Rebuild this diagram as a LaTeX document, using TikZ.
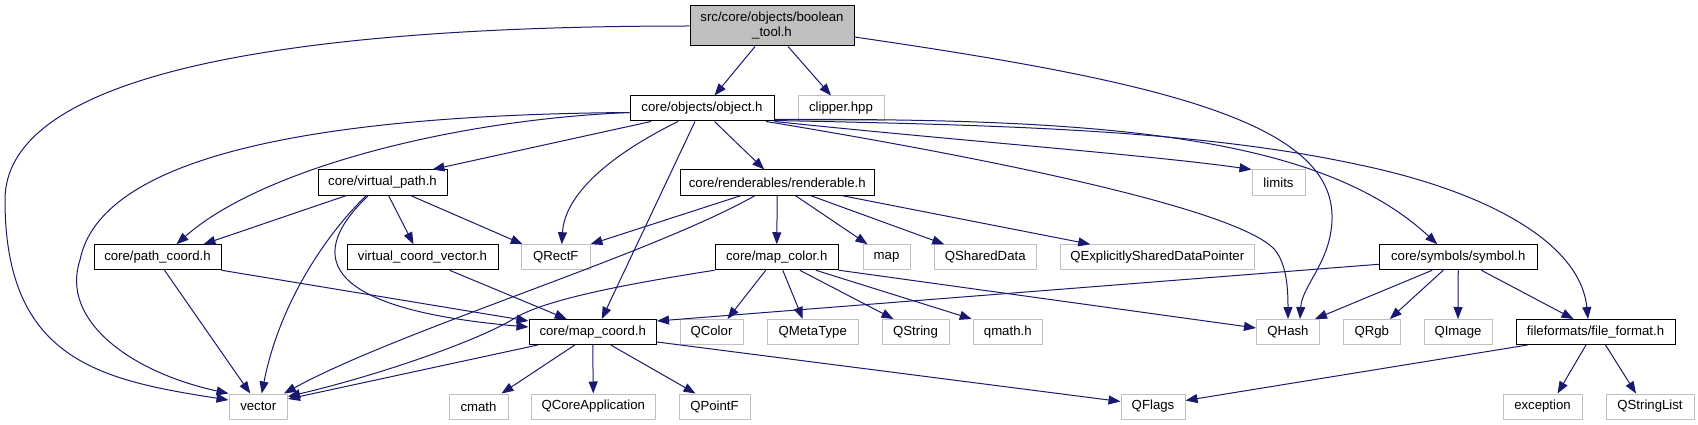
\documentclass[tikz,border=0pt]{standalone}
\usepackage{fontspec}
\setmainfont{Liberation Sans}
\usetikzlibrary{arrows.meta}
\definecolor{edgecol}{HTML}{191970}
\definecolor{greyb}{HTML}{BFBFBF}
\begin{document}
\begin{tikzpicture}[x=1pt,y=-1pt,
  every node/.style={font=\fontsize{13.2}{15}\selectfont, inner sep=0pt, anchor=center},
  doc/.style={draw=black, line width=1pt, fill=white, minimum height=25pt},
  ext/.style={draw=greyb, line width=1pt, fill=white, minimum height=25pt},
  rootnode/.style={draw=black, line width=1pt, fill=greyb, align=center, minimum height=40pt},
  link/.style={draw=edgecol, line width=1pt, -{Triangle[length=12pt,width=9pt]}}
]
\useasboundingbox[fill=white] (0,0) rectangle (1698,425);

% row 0
\node[rootnode, minimum width=164pt] (bool) at (772,26) {src/core/objects/boolean\\\_tool.h};
% row 1
\node[doc, minimum width=144pt] (object) at (702,108.5) {core/objects/object.h};
\node[ext, minimum width=86pt] (clipper) at (841,108.5) {clipper.hpp};
% row 2
\node[doc, minimum width=129pt] (vp) at (382.5,182.5) {core/virtual\_path.h};
\node[doc, minimum width=194.5pt] (rend) at (777.25,182.5) {core/renderables/renderable.h};
\node[ext, minimum width=53pt] (limits) at (1278.5,182.5) {limits};
% row 3
\node[doc, minimum width=127pt] (pathc) at (157.5,257.25) {core/path\_coord.h};
\node[doc, minimum width=151pt] (vcv) at (422.5,257.25) {virtual\_coord\_vector.h};
\node[ext, minimum width=68.5pt] (qrectf) at (555.75,257.25) {QRectF};
\node[doc, minimum width=123.5pt] (mapcolor) at (776.75,257.25) {core/map\_color.h};
\node[ext, minimum width=47pt] (map) at (886.5,257.25) {map};
\node[ext, minimum width=101.5pt] (qshared) at (985.25,257.25) {QSharedData};
\node[ext, minimum width=194.5pt] (qexpl) at (1157.25,257.25) {QExplicitlySharedDataPointer};
\node[doc, minimum width=157.5pt] (symbol) at (1458.25,257.25) {core/symbols/symbol.h};
% row 4
\node[doc, minimum width=127.5pt] (mapcoord) at (592.75,332) {core/map\_coord.h};
\node[ext, minimum width=63pt] (qcolor) at (711.5,332) {QColor};
\node[ext, minimum width=91.5pt] (qmeta) at (812.75,332) {QMetaType};
\node[ext, minimum width=67pt] (qstring) at (915.5,332) {QString};
\node[ext, minimum width=69.5pt] (qmath) at (1007.75,332) {qmath.h};
\node[ext, minimum width=63pt] (qhash) at (1288,332) {QHash};
\node[ext, minimum width=56.5pt] (qrgb) at (1371.75,332) {QRgb};
\node[ext, minimum width=68pt] (qimage) at (1458,332) {QImage};
\node[doc, minimum width=159pt] (fileformat) at (1595.5,332) {fileformats/file\_format.h};
% row 5
\node[ext, minimum width=58.5pt] (vector) at (258.25,406.5) {vector};
\node[ext, minimum width=59pt] (cmath) at (478.5,406.5) {cmath};
\node[ext, minimum width=124.5pt] (qcoreapp) at (593.25,406.5) {QCoreApplication};
\node[ext, minimum width=71pt] (qpointf) at (714.5,406.5) {QPointF};
\node[ext, minimum width=64pt] (qflags) at (1153,406.5) {QFlags};
\node[ext, minimum width=79pt] (exception) at (1542.5,406.5) {exception};
\node[ext, minimum width=88pt] (qstringlist) at (1650,406.5) {QStringList};

% boolean_tool.h
\draw[link] (bool.west) .. controls (350,26) and (5,60) .. (5,200) .. controls (5,360) and (100,380) .. ([yshift=6.5pt]vector.west);
\draw[link] ([xshift=-17pt]bool.south) -- ([xshift=12.5pt]object.north);
\draw[link] ([xshift=16pt]bool.south) -- ([xshift=-10pt]clipper.north);
\draw[link] ([yshift=-11pt]bool.east) .. controls (1150,80) and (1330,120) .. (1332,215) .. controls (1333,260) and (1302,285) .. ([xshift=12pt]qhash.north);

% object.h
\draw[link] ([yshift=-4pt]object.west) .. controls (300,115) and (100,160) .. (80,260) .. controls (60,320) and (130,372) .. (vector.north west);
\draw[link] ([yshift=-4pt]object.west) .. controls (450,120) and (260,170) .. ([xshift=19pt]pathc.north);
\draw[link] ([xshift=-51pt]object.south) -- ([xshift=50pt]vp.north);
\draw[link] ([xshift=-24pt]object.south) .. controls (620,150) and (565,190) .. ([xshift=6pt]qrectf.north);
\draw[link] ([xshift=-7pt]object.south) -- ([xshift=9pt]mapcoord.north);
\draw[link] ([xshift=12.5pt]object.south) -- ([xshift=-13pt]rend.north);
\draw[link] ([xshift=64pt]object.south) .. controls (1000,160) and (1240,210) .. (1275,250) .. controls (1287,265) and (1288,290) .. (qhash.north);
\draw[link] (object.south east) .. controls (950,140) and (1150,155) .. (limits.north west);
\draw[link] ([yshift=-11pt]object.east) .. controls (1100,118) and (1320,135) .. ([xshift=-21pt]symbol.north);
\draw[link] ([yshift=-12pt]object.east) .. controls (1000,125) and (1200,130) .. (1360,165) .. controls (1480,190) and (1580,240) .. ([xshift=-7.5pt]fileformat.north);

% virtual_path.h
\draw[link] ([xshift=-36pt]vp.south) -- ([xshift=46pt]pathc.north);
\draw[link] ([xshift=-16pt]vp.south) .. controls (330,230) and (280,300) .. ([xshift=3.5pt]vector.north);
\draw[link] ([xshift=-14pt]vp.south) .. controls (300,260) and (330,310) .. ([yshift=5pt]mapcoord.west);
\draw[link] ([xshift=6pt]vp.south) -- ([xshift=-9pt]vcv.north);
\draw[link] ([xshift=28pt]vp.south) -- ([xshift=-33pt]qrectf.north);

% renderable.h
\draw[link] ([xshift=-36pt]rend.south) -- (qrectf.north east);
\draw[link] ([xshift=-22pt]rend.south) .. controls (650,255) and (400,330) .. ([xshift=-4pt]vector.north east);
\draw[link] (rend.south) -- (mapcolor.north);
\draw[link] ([xshift=18pt]rend.south) -- ([xshift=-19pt]map.north);
\draw[link] ([xshift=33pt]rend.south) -- ([xshift=-41pt]qshared.north);
\draw[link] ([xshift=64pt]rend.south) -- ([xshift=-67pt]qexpl.north);

% path_coord.h
\draw[link] (pathc.south east) -- ([yshift=11pt]mapcoord.west);
\draw[link] ([xshift=7pt]pathc.south) -- ([xshift=-8pt]vector.north);

% virtual_coord_vector.h
\draw[link] ([xshift=27pt]vcv.south) -- ([xshift=-26pt]mapcoord.north);

% map_color.h
\draw[link] (mapcolor.south west) .. controls (620,285) and (545,300) .. (515,318) .. controls (480,340) and (380,375) .. ([yshift=10pt]vector.east);
\draw[link] ([xshift=-11pt]mapcolor.south) -- ([xshift=16pt]qcolor.north);
\draw[link] ([xshift=6pt]mapcolor.south) -- ([xshift=-10pt]qmeta.north);
\draw[link] ([xshift=23pt]mapcolor.south) -- ([xshift=-22pt]qstring.north);
\draw[link] ([xshift=39pt]mapcolor.south) -- ([xshift=-36pt]qmath.north);
\draw[link] (mapcolor.south east) -- ([yshift=4pt]qhash.west);

% symbol.h
\draw[link] ([yshift=-7pt]symbol.west) -- ([yshift=11pt]mapcoord.east);
\draw[link] ([xshift=-26pt]symbol.south) -- ([xshift=27pt]qhash.north);
\draw[link] ([xshift=-15pt]symbol.south) -- ([xshift=18pt]qrgb.north);
\draw[link] (symbol.south) -- (qimage.north);
\draw[link] ([xshift=23pt]symbol.south) -- ([xshift=-22pt]fileformat.north);

% map_coord.h
\draw[link] ([xshift=-55pt]mapcoord.south) -- ([yshift=7.5pt]vector.east);
\draw[link] ([xshift=-18pt]mapcoord.south) -- ([xshift=23pt]cmath.north);
\draw[link] (mapcoord.south) -- (qcoreapp.north);
\draw[link] ([xshift=18pt]mapcoord.south) -- ([xshift=-19pt]qpointf.north);
\draw[link] ([yshift=-10pt]mapcoord.east) -- ([yshift=5pt]qflags.west);

% file_format.h
\draw[link] ([xshift=-68pt]fileformat.south) -- ([yshift=6pt]qflags.east);
\draw[link] ([xshift=-9.5pt]fileformat.south) -- ([xshift=15pt]exception.north);
\draw[link] ([xshift=10pt]fileformat.south) -- ([xshift=-14pt]qstringlist.north);
\end{tikzpicture}
\end{document}
